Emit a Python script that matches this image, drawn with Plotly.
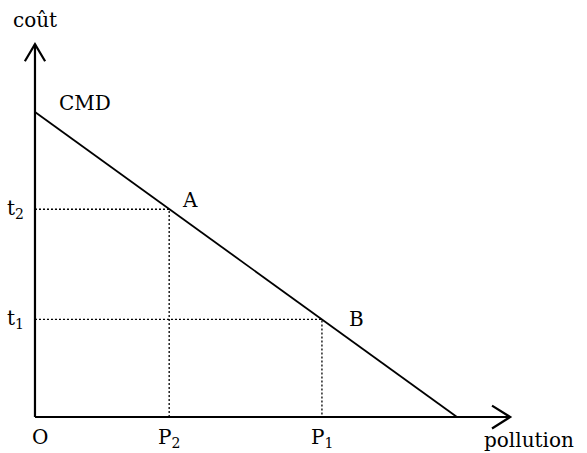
import plotly.graph_objects as go

# demand curve CMD (data units: pollution 0..10, cost 0..8)
cmd_x = [0, 10]
cmd_y = [8, 0]

# points A and B on the curve
point_names = ["A", "B"]
pollution_vals = [3.18, 6.8]   # P2, P1
cost_vals = [5.45, 2.56]       # t2, t1
x_labels = ["P<sub>2</sub>", "P<sub>1</sub>"]
y_labels = ["t<sub>2</sub>", "t<sub>1</sub>"]

SERIF = "DejaVu Serif"
black = "#000000"

fig = go.Figure()

# dotted guide lines
for px_, py_ in zip(pollution_vals, cost_vals):
    fig.add_trace(go.Scatter(x=[0, px_, px_], y=[py_, py_, 0], mode="lines",
                             line=dict(color=black, width=1.3, dash="2px,2px"),
                             hoverinfo="skip"))

# CMD line
fig.add_trace(go.Scatter(x=cmd_x, y=cmd_y, mode="lines",
                         line=dict(color=black, width=1.8), hoverinfo="skip"))

# axes
fig.add_trace(go.Scatter(x=[0, 11.26], y=[0, 0], mode="lines",
                         line=dict(color=black, width=2.2), hoverinfo="skip"))
fig.add_trace(go.Scatter(x=[0, 0], y=[0, 9.78], mode="lines",
                         line=dict(color=black, width=2.2), hoverinfo="skip"))

# open arrowheads
fig.add_trace(go.Scatter(x=[10.83, 11.26, 10.83], y=[0.3, 0, -0.3], mode="lines",
                         line=dict(color=black, width=2.2), hoverinfo="skip"))
fig.add_trace(go.Scatter(x=[-0.24, 0, 0.24], y=[9.33, 9.78, 9.33], mode="lines",
                         line=dict(color=black, width=2.2), hoverinfo="skip"))

font = dict(family=SERIF, size=20, color=black)

def label(x, y, text, xanchor="center", yanchor="middle"):
    fig.add_annotation(x=x, y=y, text=text, showarrow=False, font=font,
                       xanchor=xanchor, yanchor=yanchor)

label(0.0, 10.41, "coût")
label(0.52, 8.24, "CMD", xanchor="left")
label(3.44, 5.69, point_names[0], xanchor="left")
label(7.39, 2.57, point_names[1], xanchor="left")
for py_, t in zip(cost_vals, y_labels):
    label(-0.22, py_, t, xanchor="right")
for px_, t in zip(pollution_vals, x_labels):
    label(px_, -0.55, t)
label(0.12, -0.52, "O")
label(10.59, -0.6, "pollution", xanchor="left")

fig.update_layout(
    width=587, height=453,
    margin=dict(l=0, r=0, t=0, b=0),
    plot_bgcolor="white", paper_bgcolor="white",
    showlegend=False,
    xaxis=dict(range=[-0.829, 13.081], visible=False, fixedrange=True),
    yaxis=dict(range=[-0.944, 10.938], visible=False, fixedrange=True),
)

# drop the default 8px body margin so the figure fills the window
fig.write_html("out.html", config={"displayModeBar": False},
               post_script="document.body.style.margin='0';"
                           "document.body.style.overflow='hidden';")
